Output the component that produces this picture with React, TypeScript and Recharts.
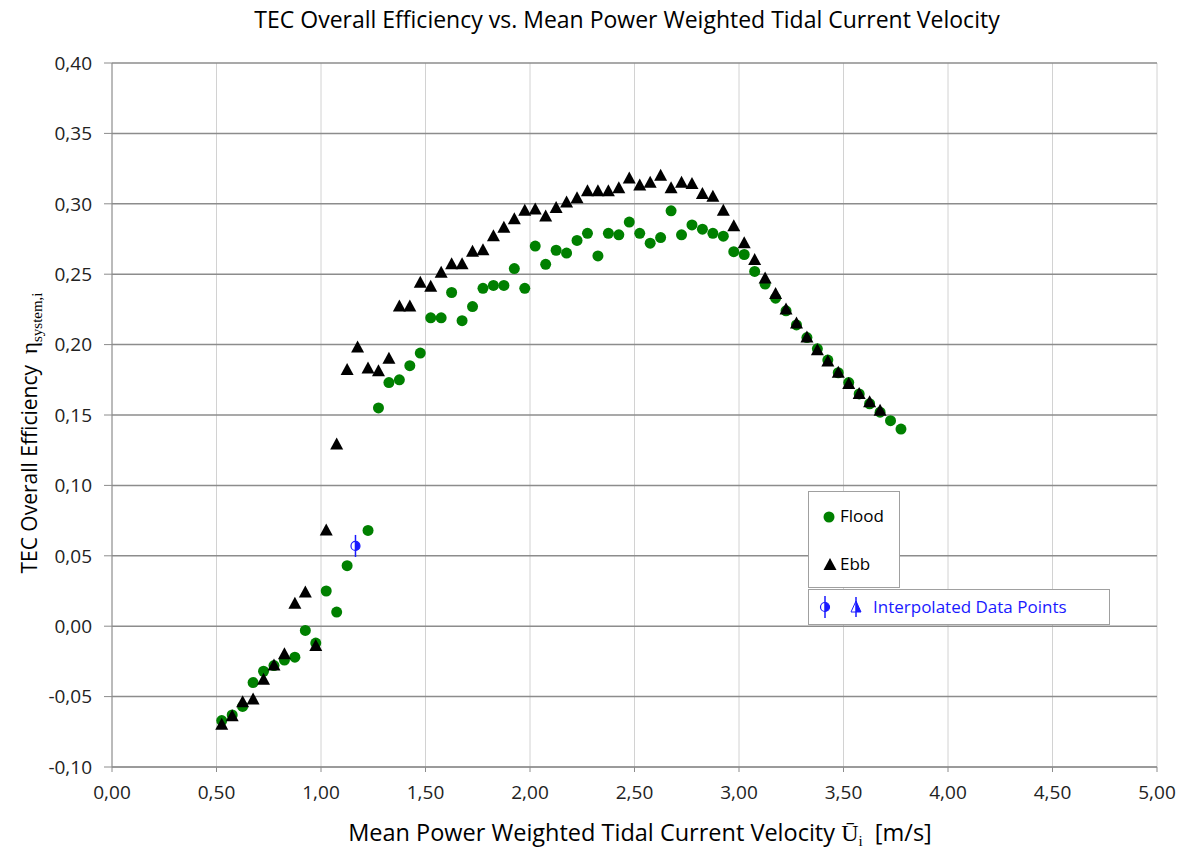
import { CartesianGrid, Legend, Scatter, ScatterChart, XAxis, YAxis } from "recharts";

// velocity bins [m/s]
const floodVelocity = [
  0.525, 0.575, 0.625, 0.675, 0.725, 0.775, 0.825, 0.875, 0.925, 0.975, 1.025, 1.075, 1.125,
  1.225, 1.275, 1.325, 1.375, 1.425, 1.475, 1.525, 1.575, 1.625, 1.675, 1.725, 1.775, 1.825,
  1.875, 1.925, 1.975, 2.025, 2.075, 2.125, 2.175, 2.225, 2.275, 2.325, 2.375, 2.425, 2.475,
  2.525, 2.575, 2.625, 2.675, 2.725, 2.775, 2.825, 2.875, 2.925, 2.975, 3.025, 3.075, 3.125,
  3.175, 3.225, 3.275, 3.325, 3.375, 3.425, 3.475, 3.525, 3.575, 3.625, 3.675, 3.725, 3.775,
];
const floodEfficiency = [
  -0.067, -0.063, -0.057, -0.04, -0.032, -0.028, -0.024, -0.022, -0.003, -0.012, 0.025, 0.01, 0.043,
  0.068, 0.155, 0.173, 0.175, 0.185, 0.194, 0.219, 0.219, 0.237, 0.217, 0.227, 0.24, 0.242,
  0.242, 0.254, 0.24, 0.27, 0.257, 0.267, 0.265, 0.274, 0.279, 0.263, 0.279, 0.278, 0.287,
  0.279, 0.272, 0.276, 0.295, 0.278, 0.285, 0.282, 0.279, 0.277, 0.266, 0.264, 0.252, 0.243,
  0.233, 0.224, 0.214, 0.205, 0.197, 0.189, 0.18, 0.173, 0.165, 0.158, 0.152, 0.146, 0.14,
];

const ebbVelocity = [
  0.525, 0.575, 0.625, 0.675, 0.725, 0.775, 0.825, 0.875, 0.925, 0.975, 1.025, 1.075, 1.125,
  1.175, 1.225, 1.275, 1.325, 1.375, 1.425, 1.475, 1.525, 1.575, 1.625, 1.675, 1.725, 1.775,
  1.825, 1.875, 1.925, 1.975, 2.025, 2.075, 2.125, 2.175, 2.225, 2.275, 2.325, 2.375, 2.425,
  2.475, 2.525, 2.575, 2.625, 2.675, 2.725, 2.775, 2.825, 2.875, 2.925, 2.975, 3.025, 3.075,
  3.125, 3.175, 3.225, 3.275, 3.325, 3.375, 3.425, 3.475, 3.525, 3.575, 3.625, 3.675,
];
const ebbEfficiency = [
  -0.07, -0.064, -0.054, -0.052, -0.038, -0.028, -0.02, 0.016, 0.024, -0.014, 0.068, 0.129, 0.182,
  0.198, 0.183, 0.181, 0.19, 0.227, 0.227, 0.244, 0.241, 0.251, 0.257, 0.257, 0.266, 0.267,
  0.277, 0.283, 0.289, 0.295, 0.296, 0.291, 0.297, 0.301, 0.304, 0.309, 0.309, 0.309, 0.311,
  0.318, 0.313, 0.315, 0.32, 0.311, 0.315, 0.314, 0.307, 0.305, 0.295, 0.284, 0.272, 0.26,
  0.247, 0.236, 0.225, 0.215, 0.205, 0.196, 0.188, 0.18, 0.172, 0.165, 0.159, 0.153,
];

const interpVelocity = [1.165];
const interpEfficiency = [0.057];

const xTicks = [0, 0.5, 1, 1.5, 2, 2.5, 3, 3.5, 4, 4.5, 5];
const yTicks = [-0.1, -0.05, 0, 0.05, 0.1, 0.15, 0.2, 0.25, 0.3, 0.35, 0.4];

const toPoints = (xs: number[], ys: number[]) => xs.map((x, i) => ({ x, y: ys[i] }));
const floodData = toPoints(floodVelocity, floodEfficiency);
const ebbData = toPoints(ebbVelocity, ebbEfficiency);
const interpData = toPoints(interpVelocity, interpEfficiency);

const FONT = "'Open Sans', 'Noto Sans', sans-serif";
const SERIF = "'Liberation Serif', 'DejaVu Serif', serif";
const GREEN = "#008000";
const BLUE = "#1a1aff";

const fmt = (v: number) => v.toFixed(2).replace(".", ",");

const Dot = (props: any) => <circle cx={props.cx} cy={props.cy} r={5.5} fill={GREEN} />;

const Tri = (props: any) => {
  const { cx, cy } = props;
  return <polygon points={`${cx},${cy - 7} ${cx - 6.5},${cy + 5} ${cx + 6.5},${cy + 5}`} fill="#000" />;
};

const HalfDot = ({ cx, cy }: { cx: number; cy: number }) => (
  <g>
    <circle cx={cx} cy={cy} r={4.5} fill="#fff" stroke={BLUE} strokeWidth={1.2} />
    <path d={`M${cx},${cy - 4.5} A4.5,4.5 0 0,1 ${cx},${cy + 4.5} Z`} fill={BLUE} />
    <line x1={cx} y1={cy - 11} x2={cx} y2={cy + 11} stroke={BLUE} strokeWidth={1.5} />
  </g>
);

const HalfTri = ({ cx, cy }: { cx: number; cy: number }) => (
  <g>
    <polygon points={`${cx},${cy - 6} ${cx - 5},${cy + 5} ${cx + 5},${cy + 5}`} fill="#fff" stroke={BLUE} strokeWidth={1} />
    <polygon points={`${cx},${cy - 6} ${cx},${cy + 5} ${cx + 5},${cy + 5}`} fill={BLUE} />
    <line x1={cx} y1={cy - 10} x2={cx} y2={cy + 10} stroke={BLUE} strokeWidth={1.5} />
  </g>
);

const LegendBox = () => (
  <div style={{ position: "relative", width: 310, height: 135, fontFamily: FONT, fontSize: 17 }}>
    <div
      style={{
        position: "absolute", left: 0, top: 0, width: 92, height: 97,
        background: "#fff", border: "1px solid #a0a0a0", boxSizing: "border-box",
      }}
    >
      <svg width={20} height={20} style={{ position: "absolute", left: 10, top: 15 }}>
        <circle cx={10} cy={10} r={5.5} fill={GREEN} />
      </svg>
      <span style={{ position: "absolute", left: 31, top: 12, color: "#000" }}>Flood</span>
      <svg width={20} height={20} style={{ position: "absolute", left: 11, top: 63 }}>
        <polygon points="10,3 3.5,15 16.5,15" fill="#000" />
      </svg>
      <span style={{ position: "absolute", left: 31, top: 60, color: "#000" }}>Ebb</span>
    </div>
    <div
      style={{
        position: "absolute", left: 0, top: 98, width: 302, height: 36,
        background: "#fff", border: "1px solid #a0a0a0", boxSizing: "border-box",
      }}
    >
      <svg width={60} height={30} style={{ position: "absolute", left: 4, top: 2 }}>
        <HalfDot cx={12} cy={15} />
        <HalfTri cx={43} cy={15} />
      </svg>
      <span style={{ position: "absolute", left: 64, top: 5, color: BLUE }}>Interpolated Data Points</span>
    </div>
  </div>
);

const YTitle = () => (
  <text
    transform="translate(29,425) rotate(-90)"
    textAnchor="middle"
    fontFamily={FONT}
    fontSize={21}
    fill="#000"
  >
    TEC Overall Efficiency{"\u00a0\u00a0"}
    <tspan fontFamily={SERIF} fontSize={23}>η</tspan>
    <tspan fontFamily={SERIF} fontSize={15} dy={5}>system,i</tspan>
  </text>
);

const XTitle = () => (
  <text x={632} y={833} textAnchor="middle" fontFamily={FONT} fontSize={23.5} fill="#000">
    Mean Power Weighted Tidal Current Velocity{" "}
    <tspan fontFamily={SERIF} fontSize={24}>{"U\u0304"}</tspan>
    <tspan fontFamily={SERIF} fontSize={15} dy={5}>i</tspan>
    <tspan dy={-5}>{"\u00a0\u00a0[m/s]"}</tspan>
  </text>
);

export default function App() {
  return (
    <div style={{ position: "relative", width: 1170, height: 841, background: "#fff", fontFamily: FONT }}>
      <div
        style={{
          position: "absolute", left: 0, top: -5, width: 1238, textAlign: "center",
          fontSize: 23, color: "#000",
        }}
      >
        TEC Overall Efficiency vs. Mean Power Weighted Tidal Current Velocity
      </div>
      <ScatterChart width={1170} height={841} margin={{ top: 55, right: 21, left: 44, bottom: 52 }}>
        <CartesianGrid horizontal={false} stroke="#d2d2d2" strokeWidth={1} />
        <CartesianGrid vertical={false} stroke="#8c8c8c" strokeWidth={1.5} />
        <XAxis
          type="number"
          dataKey="x"
          domain={[0, 5]}
          ticks={xTicks}
          tickFormatter={fmt}
          height={30}
          tickSize={5}
          tickMargin={14}
          stroke="#8c8c8c"
          tick={{ fill: "#222", fontSize: 19, fontFamily: FONT }}
          label={<XTitle />}
        />
        <YAxis
          type="number"
          dataKey="y"
          domain={[-0.1, 0.4]}
          ticks={yTicks}
          tickFormatter={fmt}
          width={60}
          tickSize={8}
          tickMargin={12}
          stroke="#8c8c8c"
          tick={{ fill: "#222", fontSize: 19, fontFamily: FONT }}
          label={<YTitle />}
        />
        <Scatter name="Flood" data={floodData} fill={GREEN} shape={Dot} isAnimationActive={false} />
        <Scatter name="Ebb" data={ebbData} fill="#000" shape={Tri} isAnimationActive={false} />
        <Scatter
          name="Interpolated Data Points"
          data={interpData}
          fill={BLUE}
          shape={(p: any) => <HalfDot cx={p.cx} cy={p.cy} />}
          isAnimationActive={false}
        />
        <Legend
          layout="vertical"
          align="center"
          verticalAlign="middle"
          content={() => <LegendBox />}
          wrapperStyle={{ left: 800, top: 483, width: 310, height: 135 }}
        />
      </ScatterChart>
    </div>
  );
}
